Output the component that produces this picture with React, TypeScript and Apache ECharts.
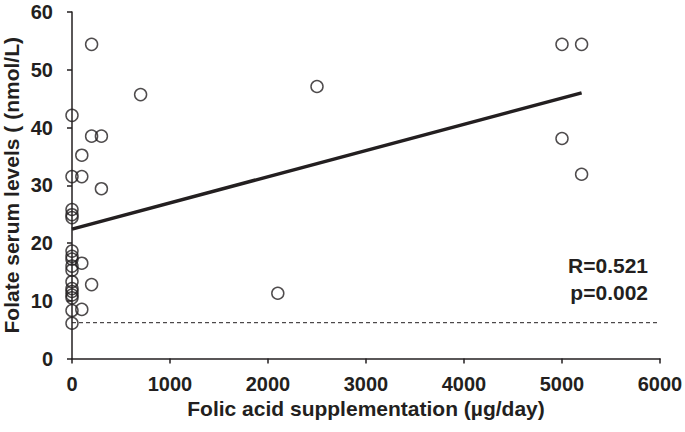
import React, { useEffect, useRef } from "react";
import * as echarts from "echarts";

const xValues = [
  0, 0, 0, 0, 0, 0, 0, 0, 0, 0, 0, 0, 0, 0, 0, 0, 0,
  100, 100, 100, 100,
  200, 200, 200,
  300, 300,
  700, 2100, 2500,
  5000, 5000, 5200, 5200,
];
const yValues = [
  42.1, 31.5, 25.8, 24.9, 24.4, 18.6, 17.7, 17.2, 16.0, 15.3, 13.3, 12.1, 11.6, 11.0, 10.5, 8.3, 6.1,
  35.2, 31.5, 16.5, 8.5,
  54.4, 38.5, 12.8,
  38.5, 29.4,
  45.7, 11.3, 47.1,
  54.4, 38.1, 54.4, 31.9,
];
const fitX = [0, 5200];
const fitY = [22.4, 46.0];
const refX = [0, 5990];
const refY = [6.2, 6.2];
const xTicks = { min: 0, max: 6000, interval: 1000 };
const yTicks = { min: 0, max: 60, interval: 10 };
const statsLines = ["R=0.521", "p=0.002"];

const FONT = "'Liberation Sans', Arial, sans-serif";
const INK = "#231f20";

export default function App() {
  const ref = useRef<HTMLDivElement>(null);
  useEffect(() => {
    if (!ref.current) return;
    const chart = echarts.init(ref.current, null, { renderer: "svg" });
    const points = xValues.map((x, i) => [x, yValues[i]]);
    chart.setOption({
      animation: false,
      backgroundColor: "#ffffff",
      grid: { left: 72, right: 25, top: 12, bottom: 73.5, containLabel: false, outerBoundsMode: "none" },
      xAxis: {
        type: "value",
        min: xTicks.min,
        max: xTicks.max,
        interval: xTicks.interval,
        name: "Folic acid supplementation (µg/day)",
        nameLocation: "middle",
        nameGap: 39,
        nameMoveOverlap: false,
        nameTextStyle: { fontFamily: FONT, fontWeight: "bold", fontSize: 21, color: INK },
        axisLine: { show: true, lineStyle: { color: INK, width: 1.5 } },
        axisTick: { show: true, inside: false, length: 5, lineStyle: { color: INK, width: 1.5 } },
        axisLabel: {
          fontFamily: FONT, fontWeight: "bold", fontSize: 20, color: INK, margin: 15,
          formatter: (v: number) => String(v),
        },
        splitLine: { show: false },
      },
      yAxis: {
        type: "value",
        min: yTicks.min,
        max: yTicks.max,
        interval: yTicks.interval,
        name: "Folate serum levels ( (nmol/L)",
        nameLocation: "middle",
        nameGap: 50,
        nameMoveOverlap: false,
        nameTextStyle: { fontFamily: FONT, fontWeight: "bold", fontSize: 21, color: INK },
        axisLine: { show: true, lineStyle: { color: INK, width: 1.5 } },
        axisTick: { show: true, inside: false, length: 5, lineStyle: { color: INK, width: 1.5 } },
        axisLabel: { fontFamily: FONT, fontWeight: "bold", fontSize: 20, color: INK, margin: 19 },
        splitLine: { show: false },
      },
      series: [
        {
          type: "line",
          data: refX.map((x, i) => [x, refY[i]]),
          symbol: "none",
          lineStyle: { color: INK, width: 1, type: [4, 3] },
          z: 1,
        },
        {
          type: "line",
          data: fitX.map((x, i) => [x, fitY[i]]),
          symbol: "none",
          lineStyle: { color: INK, width: 3.5 },
          z: 2,
        },
        {
          type: "scatter",
          data: points,
          symbol: "circle",
          symbolSize: 12,
          itemStyle: { color: "rgba(255,255,255,0)", borderColor: INK, borderWidth: 1.5 },
          z: 3,
        },
      ],
      graphic: statsLines.map((t, i) => ({
        type: "text",
        right: 37,
        top: 255 + i * 27,
        style: { text: t, font: `bold 21px ${FONT}`, fill: INK },
      })),
    });
    return () => chart.dispose();
  }, []);
  return <div ref={ref} style={{ width: 685, height: 432, position: "absolute", left: 0, top: 0 }} />;
}
